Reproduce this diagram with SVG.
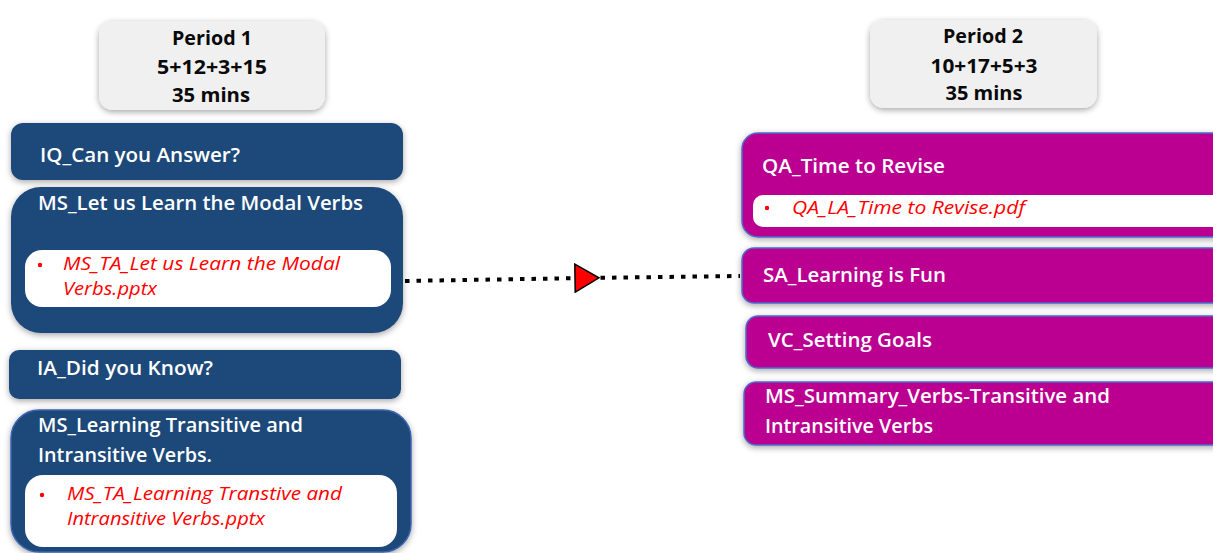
<svg xmlns="http://www.w3.org/2000/svg" width="1213" height="553" viewBox="0 0 1213 553">
<defs>
<filter id="sh" x="-10%" y="-20%" width="120%" height="150%">
<feDropShadow dx="0" dy="2" stdDeviation="3" flood-color="#000" flood-opacity="0.35"/>
</filter>
<marker id="tri" viewBox="0 0 26 30" refX="12" refY="15" markerWidth="26" markerHeight="30" markerUnits="userSpaceOnUse" orient="auto">
<path d="M1,1 L25,15 L1,29 Z" fill="#ff0000" stroke="#000" stroke-width="1.5"/>
</marker>
</defs>
<style>
.hdr{fill:#f0f0f0;filter:url(#sh)}
.blue{fill:#1a4a7a;filter:url(#sh)}
.blue2{fill:#1a4a7a;stroke:#3f63b0;stroke-width:1.5;filter:url(#sh)}
.mag{fill:#bb0091;stroke:#4a6ccc;stroke-width:1.5;filter:url(#sh)}
.inner{fill:#ffffff}
.ht{font-family:"Open Sans","Liberation Sans",sans-serif;font-weight:bold;font-size:20px;fill:#0a0a0a;text-anchor:middle}
.wt{font-family:"Open Sans","Liberation Sans",sans-serif;font-weight:600;font-size:20px;fill:#ffffff}
.rt{font-family:"Open Sans","Liberation Sans",sans-serif;font-style:italic;font-size:18.5px;fill:#ff0000}
.bul{fill:#ff0000}
.conn{fill:none;stroke:#000;stroke-width:4;stroke-dasharray:4.5 7}
</style>
<rect width="1213" height="553" fill="#ffffff"/>

<g id="connectors">
<polyline class="conn" points="405,281 586,278 740,276" marker-mid="url(#tri)"/>
</g>

<g id="period1">
<rect class="hdr" x="99" y="21" width="226" height="89" rx="14"/>
<text class="ht" x="212" y="45" textLength="80" lengthAdjust="spacingAndGlyphs">Period 1</text>
<text class="ht" x="212" y="74" textLength="110" lengthAdjust="spacingAndGlyphs">5+12+3+15</text>
<text class="ht" x="211" y="102" textLength="78" lengthAdjust="spacingAndGlyphs">35 mins</text>
</g>

<g id="iq">
<rect class="blue" x="11" y="123" width="392" height="57" rx="12"/>
<text class="wt" x="40" y="162" textLength="200" lengthAdjust="spacingAndGlyphs">IQ_Can you Answer?</text>
</g>

<g id="ms-modal">
<rect class="blue" x="11" y="187" width="392" height="146" rx="30"/>
<text class="wt" x="38" y="210" textLength="325" lengthAdjust="spacingAndGlyphs">MS_Let us Learn the Modal Verbs</text>
<rect class="inner" x="25" y="250" width="366" height="57" rx="17"/>
<circle class="bul" cx="40" cy="265" r="2.2"/>
<text class="rt" x="63" y="270" textLength="277" lengthAdjust="spacingAndGlyphs">MS_TA_Let us Learn the Modal</text>
<text class="rt" x="63" y="295" textLength="94" lengthAdjust="spacingAndGlyphs">Verbs.pptx</text>
</g>

<g id="ia">
<rect class="blue" x="9" y="350" width="392" height="49" rx="10"/>
<text class="wt" x="37" y="375" textLength="176" lengthAdjust="spacingAndGlyphs">IA_Did you Know?</text>
</g>

<g id="ms-transitive">
<rect class="blue2" x="11" y="410" width="400" height="142" rx="28"/>
<text class="wt" x="38" y="432" textLength="265" lengthAdjust="spacingAndGlyphs">MS_Learning Transitive and</text>
<text class="wt" x="38" y="462" textLength="174" lengthAdjust="spacingAndGlyphs">Intransitive Verbs.</text>
<rect class="inner" x="25" y="475" width="372" height="72" rx="18"/>
<circle class="bul" cx="42" cy="495" r="2.2"/>
<text class="rt" x="67" y="500" textLength="275" lengthAdjust="spacingAndGlyphs">MS_TA_Learning Transtive and</text>
<text class="rt" x="67" y="525" textLength="198" lengthAdjust="spacingAndGlyphs">Intransitive Verbs.pptx</text>
</g>

<g id="period2">
<rect class="hdr" x="870" y="20" width="227" height="88" rx="14"/>
<text class="ht" x="983" y="43" textLength="80" lengthAdjust="spacingAndGlyphs">Period 2</text>
<text class="ht" x="984" y="73" textLength="107" lengthAdjust="spacingAndGlyphs">10+17+5+3</text>
<text class="ht" x="984" y="100" textLength="77" lengthAdjust="spacingAndGlyphs">35 mins</text>
</g>

<g id="qa">
<rect class="mag" x="742" y="133" width="500" height="104" rx="16"/>
<text class="wt" x="762" y="173" textLength="183" lengthAdjust="spacingAndGlyphs">QA_Time to Revise</text>
<rect class="inner" x="753" y="195" width="480" height="32" rx="10"/>
<circle class="bul" cx="767" cy="208" r="2.2"/>
<text class="rt" x="792" y="214" textLength="233" lengthAdjust="spacingAndGlyphs">QA_LA_Time to Revise.pdf</text>
</g>

<g id="sa">
<rect class="mag" x="742" y="248" width="500" height="55" rx="12"/>
<text class="wt" x="763" y="282" textLength="183" lengthAdjust="spacingAndGlyphs">SA_Learning is Fun</text>
</g>

<g id="vc">
<rect class="mag" x="746" y="316" width="500" height="52" rx="12"/>
<text class="wt" x="768" y="347" textLength="164" lengthAdjust="spacingAndGlyphs">VC_Setting Goals</text>
</g>

<g id="ms-summary">
<rect class="mag" x="744" y="382" width="500" height="63" rx="12"/>
<text class="wt" x="765" y="403" textLength="345" lengthAdjust="spacingAndGlyphs">MS_Summary_Verbs-Transitive and</text>
<text class="wt" x="765" y="433" textLength="168" lengthAdjust="spacingAndGlyphs">Intransitive Verbs</text>
</g>
</svg>
